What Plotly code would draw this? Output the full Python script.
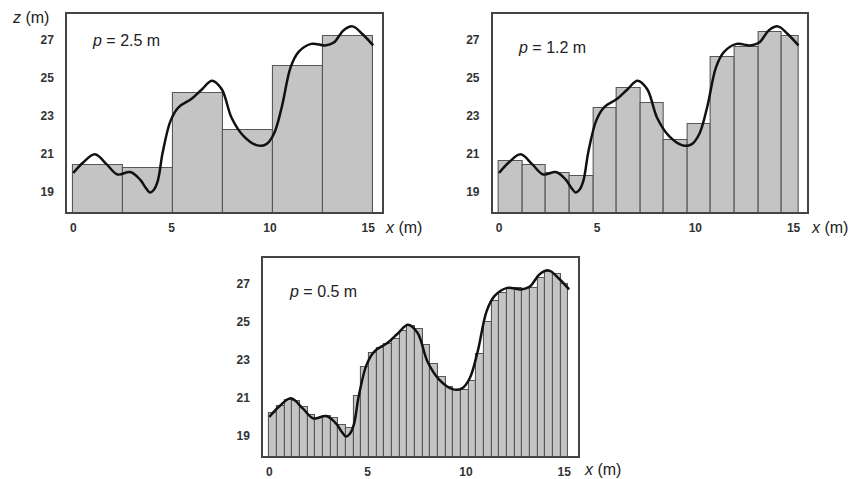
import plotly.graph_objects as go

# ---- data ----
profile_x = [0.0, 0.5, 1.1, 1.7, 2.25, 2.9, 3.4, 3.7, 3.9, 4.1, 4.3, 4.55, 4.95, 5.35,
             6.0, 6.55, 7.05, 7.55, 8.05, 8.65, 9.35, 9.8, 10.2, 10.6, 11.05, 11.45,
             12.1, 12.8, 13.25, 13.75, 14.2, 14.7, 15.25]
profile_z = [20.0, 20.55, 20.98, 20.45, 19.92, 20.05, 19.65, 19.2, 18.98, 19.12, 19.6,
             21.1, 22.75, 23.45, 23.88, 24.4, 24.85, 24.4, 22.9, 21.95, 21.45, 21.5,
             22.05, 23.45, 25.55, 26.35, 26.78, 26.7, 26.85, 27.5, 27.7, 27.3, 26.7]

profile_length = 15.25

bars_p25 = [20.44, 20.25, 24.18, 22.27, 25.63, 27.17]
width_p25 = 2.54  # drawn bar width as it appears in the figure
label_p25 = "<i>p</i> = 2.5 m"

bars_p12 = [20.65, 20.42, 19.98, 19.84, 23.42, 24.47, 23.69, 21.73, 22.55, 26.1, 26.6,
            27.39, 27.18]
width_p12 = 1.2
label_p12 = "<i>p</i> = 1.2 m"

bars_p05 = [20.2, 20.6, 20.9, 20.85, 20.5, 20.1, 19.95, 20.05, 19.95, 19.6, 19.4, 21.1,
            22.6, 23.35, 23.6, 23.85, 24.1, 24.5, 24.8, 24.6, 23.8, 22.8, 22.1, 21.6,
            21.4, 21.4, 21.9, 23.3, 25.0, 26.1, 26.5, 26.7, 26.75, 26.7, 26.75, 27.3,
            27.6, 27.5, 27.0]
width_p05 = 0.39  # drawn bar width as it appears in the figure
label_p05 = "<i>p</i> = 0.5 m"

x_ticks = [0, 5, 10, 15]
z_ticks = [19, 21, 23, 25, 27]

# ---- layout geometry ----
W, H = 852, 479
panels = [
    (bars_p25, width_p25, label_p25, 67.0, 382.0, 14.0, 212.0, (126, 40), (403, 227)),
    (bars_p12, width_p12, label_p12, 492.7, 807.3, 14.0, 212.0, (552, 47), (829, 227)),
    (bars_p05, width_p05, label_p05, 263.0, 578.0, 258.0, 456.0, (323, 291), (602, 469)),
]

x_range = [-0.32, 15.70]
z_range = [17.95, 28.35]

fig = go.Figure()
layout = dict(
    width=W, height=H, margin=dict(l=0, r=0, t=0, b=0),
    paper_bgcolor="white", plot_bgcolor="white", showlegend=False,
    bargap=0,
)
annotations = []
axis_font = dict(family="Liberation Sans", size=12, color="#333333", weight="bold")
text_font = dict(family="Liberation Sans", size=16, color="#222222")

for i, (vals, w, lab, L, R, T, B, labpos, xlabpos) in enumerate(panels):
    n = i + 1
    xa = "x" if n == 1 else f"x{n}"
    ya = "y" if n == 1 else f"y{n}"
    lefts = [k * w for k in range(len(vals))]
    widths = [min(w, profile_length - l) for l in lefts]
    centers = [l + ww / 2 for l, ww in zip(lefts, widths)]
    fig.add_trace(go.Bar(
        x=centers, y=vals, width=widths, xaxis=xa, yaxis=ya,
        marker=dict(color="#c4c4c4", line=dict(color="#575757", width=1.1)),
        hoverinfo="skip",
    ))
    fig.add_trace(go.Scatter(
        x=profile_x, y=profile_z, xaxis=xa, yaxis=ya, mode="lines",
        line=dict(color="#111111", width=2.5, shape="spline", smoothing=1.0),
        hoverinfo="skip",
    ))
    xkey = "xaxis" if n == 1 else f"xaxis{n}"
    ykey = "yaxis" if n == 1 else f"yaxis{n}"
    layout[xkey] = dict(
        domain=[L / W, R / W], anchor=ya, range=x_range,
        tickvals=x_ticks, ticks="", showgrid=False, zeroline=False,
        showline=True, mirror=True, linecolor="#444444", linewidth=1.5,
        tickfont=axis_font, ticklabelstandoff=4,
    )
    layout[ykey] = dict(
        domain=[1 - B / H, 1 - T / H], anchor=xa, range=z_range,
        tickvals=z_ticks, ticks="", showgrid=False, zeroline=False,
        showline=True, mirror=True, linecolor="#444444", linewidth=1.5,
        tickfont=axis_font, ticklabelstandoff=9,
    )
    annotations.append(dict(
        text=lab, x=labpos[0] / W, y=1 - labpos[1] / H, xref="paper", yref="paper",
        xanchor="center", yanchor="middle", showarrow=False, font=text_font,
    ))
    annotations.append(dict(
        text="<i>x</i> (m)", x=xlabpos[0] / W, y=1 - xlabpos[1] / H,
        xref="paper", yref="paper", xanchor="center", yanchor="middle",
        showarrow=False, font=text_font,
    ))

annotations.append(dict(
    text="<i>z</i> (m)", x=30 / W, y=1 - 17 / H, xref="paper", yref="paper",
    xanchor="center", yanchor="middle", showarrow=False, font=text_font,
))
layout["annotations"] = annotations
fig.update_layout(**layout)
fig.write_html("out.html")
